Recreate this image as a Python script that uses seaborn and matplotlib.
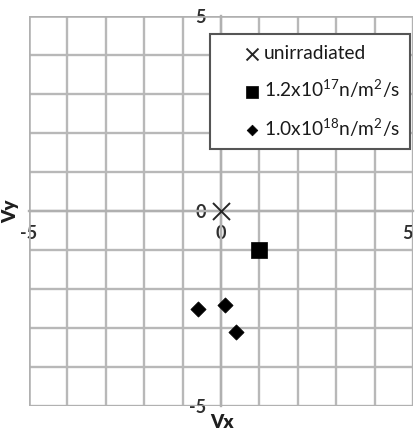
import numpy as np
import pandas as pd
import seaborn as sns
import matplotlib.pyplot as plt
from matplotlib.patches import Rectangle

# values
unirr_vx = [0.0]
unirr_vy = [0.0]
low_flux_vx = [1.0]
low_flux_vy = [-1.0]
high_flux_vx = [-0.6, 0.1, 0.4]
high_flux_vy = [-2.5, -2.4, -3.1]
labels = ['unirradiated',
          r'1.2x10$\mathregular{^{17}}$n/m$\mathregular{^2}$/s',
          r'1.0x10$\mathregular{^{18}}$n/m$\mathregular{^2}$/s']
tick_vals = [-5, 0, 5]

sns.set_style('white')
plt.rcParams['font.family'] = ['Lato', 'DejaVu Sans']
plt.rcParams['axes.unicode_minus'] = False
plt.rcParams['mathtext.fontset'] = 'custom'
plt.rcParams['mathtext.rm'] = 'Lato'
plt.rcParams['mathtext.it'] = 'Lato:italic'
plt.rcParams['mathtext.bf'] = 'Lato:bold'

df_u = pd.DataFrame({'Vx': unirr_vx, 'Vy': unirr_vy})
df_l = pd.DataFrame({'Vx': low_flux_vx, 'Vy': low_flux_vy})
df_h = pd.DataFrame({'Vx': high_flux_vx, 'Vy': high_flux_vy})

fig = plt.figure(figsize=(4.16, 4.30), dpi=100)
ax = fig.add_axes([29 / 416, 1 - 406 / 430, 384 / 416, 390 / 430])

sns.scatterplot(data=df_u, x='Vx', y='Vy', marker='x', s=150, color='#262626',
                linewidth=1.4, label=labels[0], ax=ax, zorder=5)
sns.scatterplot(data=df_l, x='Vx', y='Vy', marker='s', s=130, color='black',
                edgecolor='black', linewidth=0.5, label=labels[1], ax=ax, zorder=5)
sns.scatterplot(data=df_h, x='Vx', y='Vy', marker='D', s=60, color='black',
                edgecolor='black', linewidth=0.5, label=labels[2], ax=ax, zorder=5)

ax.set_xlim(-5, 5)
ax.set_ylim(-5, 5)
ax.set_xticks(tick_vals)
ax.set_yticks(tick_vals)
ax.set_xticks(np.arange(-5, 6), minor=True)
ax.set_yticks(np.arange(-5, 6), minor=True)
ax.grid(True, which='both', color='#b8b8b8', linewidth=1.7)
ax.set_axisbelow(True)

# axes cross at the origin, Excel style (labels sit next to the zero lines)
for side in ['left', 'bottom']:
    ax.spines[side].set_position(('data', 0))
    ax.spines[side].set_color('#b0b0b0')
    ax.spines[side].set_linewidth(1.7)
for side in ['top', 'right']:
    ax.spines[side].set_visible(False)
ax.add_patch(Rectangle((0, 0), 1, 1, transform=ax.transAxes, fill=False,
                       edgecolor='#b0b0b0', linewidth=1.8, zorder=1))

ax.tick_params(which='both', length=0, labelsize=13, labelcolor='#2e2e2e')
ax.tick_params(axis='x', pad=10)
ax.tick_params(axis='y', pad=11)
for t in ax.get_xticklabels() + ax.get_yticklabels():
    t.set_fontweight('bold')
ax.get_xticklabels()[-1].set_horizontalalignment('right')

ax.set_xlabel('')
ax.set_ylabel('')
fig.text(222 / 416, 1 - 422 / 430, 'Vx', ha='center', va='center',
         fontsize=13.5, fontweight='heavy', color='#1e1e1e')
fig.text(11 / 416, 1 - 211 / 430, 'Vy', ha='center', va='center', rotation=90,
         fontsize=13.5, fontweight='heavy', color='#1e1e1e')

leg = ax.legend(loc='upper left', bbox_to_anchor=((210 - 29) / 384, (406 - 34) / 390),
                fontsize=13.8, frameon=True, fancybox=False, markerscale=0.7,
                borderpad=0.55, labelspacing=0.85, handlelength=3.3, handletextpad=-1.05,
                borderaxespad=0)
leg.get_frame().set_edgecolor('#555555')
leg.get_frame().set_linewidth(1.5)
leg.get_frame().set_alpha(1)
for t in leg.get_texts():
    t.set_color('#1a1a1a')

fig.savefig('out.png', dpi=100)
